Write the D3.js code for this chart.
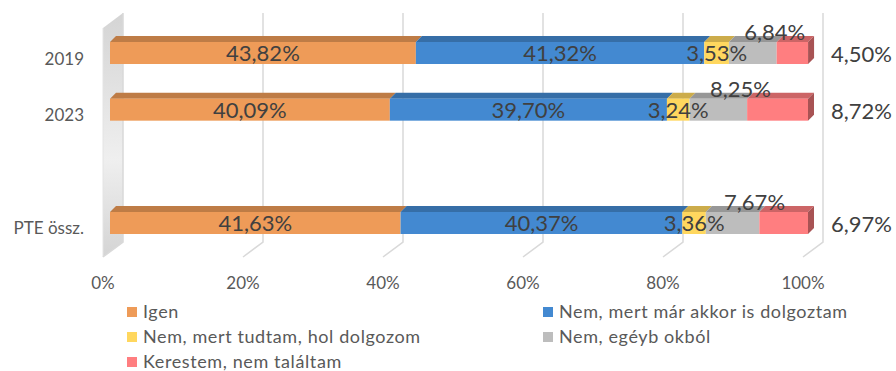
<!DOCTYPE html>
<html><head><meta charset="utf-8">
<script src="https://cdn.jsdelivr.net/npm/d3@7"></script>
<style>body{margin:0;background:#fff}svg{display:block}</style>
</head><body>
<script>
const categories = ["2019", "2023", "", "PTE össz."];
const seriesNames = ["Igen", "Nem, mert már akkor is dolgoztam", "Nem, mert tudtam, hol dolgozom", "Nem, egéyb okból", "Kerestem, nem találtam"];
const igen     = [43.82, 40.09, null, 41.63];
const nemMar   = [41.32, 39.70, null, 40.37];
const nemTudt  = [3.53, 3.24, null, 3.36];
const nemEgyeb = [6.84, 8.25, null, 7.67];
const kerestem = [4.50, 8.72, null, 6.97];
const tickValues = [0, 20, 40, 60, 80, 100];
const tickLabels = ["0%", "20%", "40%", "60%", "80%", "100%"];

const seriesValues = [igen, nemMar, nemTudt, nemEgyeb, kerestem];
const colors = ["#EE9B58", "#4389D1", "#FFD75E", "#BDBDBD", "#FF7E80"];
const W = 896, H = 371;
const svg = d3.select("body").append("svg").attr("width", W).attr("height", H);
const defs = svg.append("defs");
const g = defs.append("linearGradient").attr("id","wall").attr("x1",0).attr("y1",0).attr("x2",0).attr("y2",1);
g.append("stop").attr("offset","0%").attr("stop-color","#d4d4d4");
g.append("stop").attr("offset","60%").attr("stop-color","#efefef");
g.append("stop").attr("offset","100%").attr("stop-color","#d4d4d4");

const xBack = d3.scaleLinear().domain([0,100]).range([123, 823]);
const xBar = d3.scaleLinear().domain([0,100]).range([110, 808]);
const y = d3.scalePoint().domain(categories).range([24.67, 251.33]).padding(0.5);
const backTop = 13, backBottom = 242, depthX = -20, depthY = 15;
const barH = 22, bdx = 6, bdy = -6;

// wall
svg.append("path")
  .attr("d", `M${xBack(0)+depthX},${backTop+depthY}L${xBack(0)},${backTop}L${xBack(0)},${backBottom}L${xBack(0)+depthX},${backBottom+depthY}Z`)
  .attr("fill","url(#wall)");
svg.append("line").attr("x1",xBack(0)+depthX).attr("x2",xBack(0)+depthX).attr("y1",backTop+depthY).attr("y2",backBottom+depthY).attr("stroke","#e4e4e4").attr("stroke-width",1);

// gridlines
const grid = svg.append("g").attr("stroke","#d9d9d9").attr("stroke-width",1.5).attr("fill","none");
tickValues.forEach(v => {
  grid.append("path").attr("d", `M${xBack(v)},${backTop}L${xBack(v)},${backBottom}L${xBack(v)+depthX},${backBottom+depthY}`);
});

// tick labels
svg.append("g").selectAll("text").data(tickValues).join("text")
  .attr("x", (d) => xBack(d) + depthX)
  .attr("y", 289)
  .attr("text-anchor","middle")
  .attr("font-family","Lato, sans-serif").attr("font-size",17).attr("fill","#595959")
  .text((d,i) => tickLabels[i]);

// category labels
svg.append("g").selectAll("text").data(categories).join("text")
  .attr("x", 84).attr("y", (d) => y(d) + 11.5)
  .attr("text-anchor","end")
  .attr("font-family","Lato, sans-serif").attr("font-size",17).attr("fill","#595959")
  .text(d => d);

// stacked data
const rows = categories.map((c,i) => { const o = {cat:c}; seriesNames.forEach((s,k) => o[s] = seriesValues[k][i]); return o; });
const stack = d3.stack().keys(seriesNames).value((d,k) => d[k] == null ? 0 : d[k]);
const stacked = stack(rows.filter(r => r.Igen != null));

function darker(c, k) { const h = d3.color(c); return d3.rgb(h.r*k, h.g*k, h.b*k).formatHex(); }

const bars = svg.append("g");
stacked.forEach((layer, si) => {
  layer.forEach(seg => {
    const x0 = xBar(seg[0]), x1 = xBar(seg[1]);
    const yc = y(seg.data.cat), yt = yc - barH/2, yb = yc + barH/2;
    bars.append("path")
      .attr("d", `M${x0},${yt}L${x0+bdx},${yt+bdy}L${x1+bdx},${yt+bdy}L${x1},${yt}Z`)
      .attr("fill", darker(colors[si], 0.8));
    bars.append("rect").attr("x", x0).attr("y", yt).attr("width", x1-x0).attr("height", barH).attr("fill", colors[si]);
    if (si === seriesNames.length - 1) {
      bars.append("path")
        .attr("d", `M${x1},${yt}L${x1+bdx},${yt+bdy}L${x1+bdx},${yb+bdy}L${x1},${yb}Z`)
        .attr("fill", darker(colors[si], 0.66));
    }
  });
});

// data labels
const fmt = v => v.toFixed(2).replace(".", ",") + "%";
const labels = svg.append("g").attr("font-family","Lato, sans-serif").attr("font-size",22).attr("fill","#404040");
stacked.forEach((layer, si) => {
  layer.forEach(seg => {
    const v = seg[1] - seg[0];
    const yc = y(seg.data.cat);
    let lx = xBar((seg[0]+seg[1])/2), ly = yc + 8, anchor = "middle";
    if (si === 3) { lx += 22; ly -= 21; }
    if (si === 4) { lx = xBack(100) + 8; ly = yc + 9; anchor = "start"; }
    labels.append("text").attr("x", lx).attr("y", ly).attr("text-anchor", anchor).text(fmt(v));
  });
});

// legend
const legendPos = [[127,312],[543,312],[127,337],[543,337],[127,362]];
const lg = svg.append("g").attr("font-family","Lato, sans-serif").attr("font-size",18).attr("letter-spacing","0.6px").attr("fill","#595959");
seriesNames.forEach((s,i) => {
  const [lx, ly] = legendPos[i];
  lg.append("rect").attr("x", lx).attr("y", ly-5).attr("width",10).attr("height",10).attr("fill", colors[i]);
  lg.append("text").attr("x", lx+16).attr("y", ly+6).text(s);
});
</script>
</body></html>
